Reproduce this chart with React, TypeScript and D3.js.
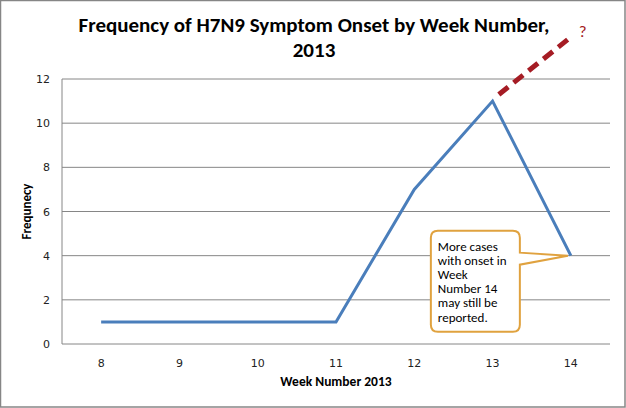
import { useMemo } from 'react';
import * as d3 from 'd3';

const WIDTH = 626;
const HEIGHT = 408;
const MARGIN = { top: 79, right: 16, bottom: 64, left: 62 };

const weeks = ['8', '9', '10', '11', '12', '13', '14'];
const frequency = [1, 1, 1, 1, 7, 11, 4];
const yTicks = [0, 2, 4, 6, 8, 10, 12];
// projected trend beyond the last reported week: [week position, value]
const projection: [number, number][] = [
  [5.08, 11.3],
  [6, 13.9],
];
const calloutLines = ['More cases', 'with onset in', 'Week', 'Number 14', 'may still be', 'reported.'];

const font = 'Calibri, Carlito, "Open Sans", "Liberation Sans", sans-serif';
const tickFont = 'Tahoma, "DejaVu Sans", Verdana, sans-serif';

const App = () => {
  const boundsWidth = WIDTH - MARGIN.left - MARGIN.right;
  const boundsHeight = HEIGHT - MARGIN.top - MARGIN.bottom;

  const xScale = useMemo(
    () => d3.scaleBand().domain(weeks).range([0, boundsWidth]),
    [boundsWidth],
  );
  const yScale = useMemo(
    () => d3.scaleLinear().domain([0, 12]).range([boundsHeight, 0]),
    [boundsHeight],
  );
  const xPos = (i: number) => xScale(weeks[0])! + xScale.bandwidth() / 2 + i * xScale.step();

  const linePath = d3
    .line<number>()
    .x((_, i) => xPos(i))
    .y(d => yScale(d))(frequency);

  const dashPath = d3
    .line<[number, number]>()
    .x(d => xPos(d[0]))
    .y(d => yScale(d[1]))(projection);

  // callout box anchored to the last point
  const lastX = xPos(weeks.length - 1);
  const lastY = yScale(frequency[frequency.length - 1]);
  const box = { x: lastX - 140, y: lastY - 25, w: 89, h: 101, r: 7 };
  const calloutPath = [
    `M${box.x + box.r},${box.y}`,
    `H${box.x + box.w - box.r}`,
    `Q${box.x + box.w},${box.y} ${box.x + box.w},${box.y + box.r}`,
    `V${box.y + 22}`,
    `L${lastX - 3},${lastY}`,
    `L${box.x + box.w},${box.y + 34}`,
    `V${box.y + box.h - box.r}`,
    `Q${box.x + box.w},${box.y + box.h} ${box.x + box.w - box.r},${box.y + box.h}`,
    `H${box.x + box.r}`,
    `Q${box.x},${box.y + box.h} ${box.x},${box.y + box.h - box.r}`,
    `V${box.y + box.r}`,
    `Q${box.x},${box.y} ${box.x + box.r},${box.y}`,
    'Z',
  ].join(' ');

  return (
    <div>
      <style>{'body{margin:0}'}</style>
      <svg width={WIDTH} height={HEIGHT} style={{ display: 'block', fontFamily: font }}>
        <rect x={0.5} y={0.5} width={WIDTH - 1.5} height={HEIGHT - 1.5} fill="#fff" stroke="#868686" strokeWidth={1.5} />

        <text x={314} y={32} textAnchor="middle" fontSize={21} fontWeight={700} fill="#000">
          Frequency of H7N9 Symptom Onset by Week Number,
        </text>
        <text x={314} y={57} textAnchor="middle" fontSize={21} fontWeight={700} fill="#000">
          2013
        </text>

        <g transform={`translate(${MARGIN.left},${MARGIN.top})`}>
          {yTicks.map(t => (
            <g key={t}>
              {t > 0 && (
                <line x1={0} x2={boundsWidth} y1={yScale(t)} y2={yScale(t)} stroke="#868686" strokeWidth={1} />
              )}
              <text
                x={-12}
                y={yScale(t) + 4}
                textAnchor="end"
                fontSize={11}
                fontFamily={tickFont}
                fill="#222"
              >
                {t}
              </text>
            </g>
          ))}
          <line x1={0} x2={boundsWidth} y1={boundsHeight} y2={boundsHeight} stroke="#868686" strokeWidth={1} />
          <line x1={0} x2={0} y1={0} y2={boundsHeight} stroke="#868686" strokeWidth={1} />

          {weeks.map(w => (
            <text
              key={w}
              x={xScale(w)! + xScale.bandwidth() / 2}
              y={boundsHeight + 23}
              textAnchor="middle"
              fontSize={11}
              fontFamily={tickFont}
              fill="#222"
            >
              {w}
            </text>
          ))}

          <path d={linePath ?? ''} fill="none" stroke="#4a7ebb" strokeWidth={3} strokeLinejoin="miter" />
          <path d={dashPath ?? ''} fill="none" stroke="#a51c24" strokeWidth={5} strokeDasharray="12,7" />
          <text x={xPos(6) + 8} y={yScale(13.9)} fontSize={17} fill="#a51c24">
            ?
          </text>

          <path d={calloutPath} fill="#fff" stroke="#e0a23f" strokeWidth={2} />
          {calloutLines.map((l, i) => (
            <text key={l} x={box.x + 7} y={box.y + 20 + i * 14.2} fontSize={13} fill="#000">
              {l}
            </text>
          ))}
        </g>

        <text x={336} y={386} textAnchor="middle" fontSize={13.5} fontWeight={700} fill="#000">
          Week Number 2013
        </text>
        <text
          transform={`translate(31,${MARGIN.top + boundsHeight / 2}) rotate(-90)`}
          textAnchor="middle"
          fontSize={13}
          fontWeight={700}
          fill="#000"
        >
          Frequnecy
        </text>
      </svg>
    </div>
  );
};

export default App;
